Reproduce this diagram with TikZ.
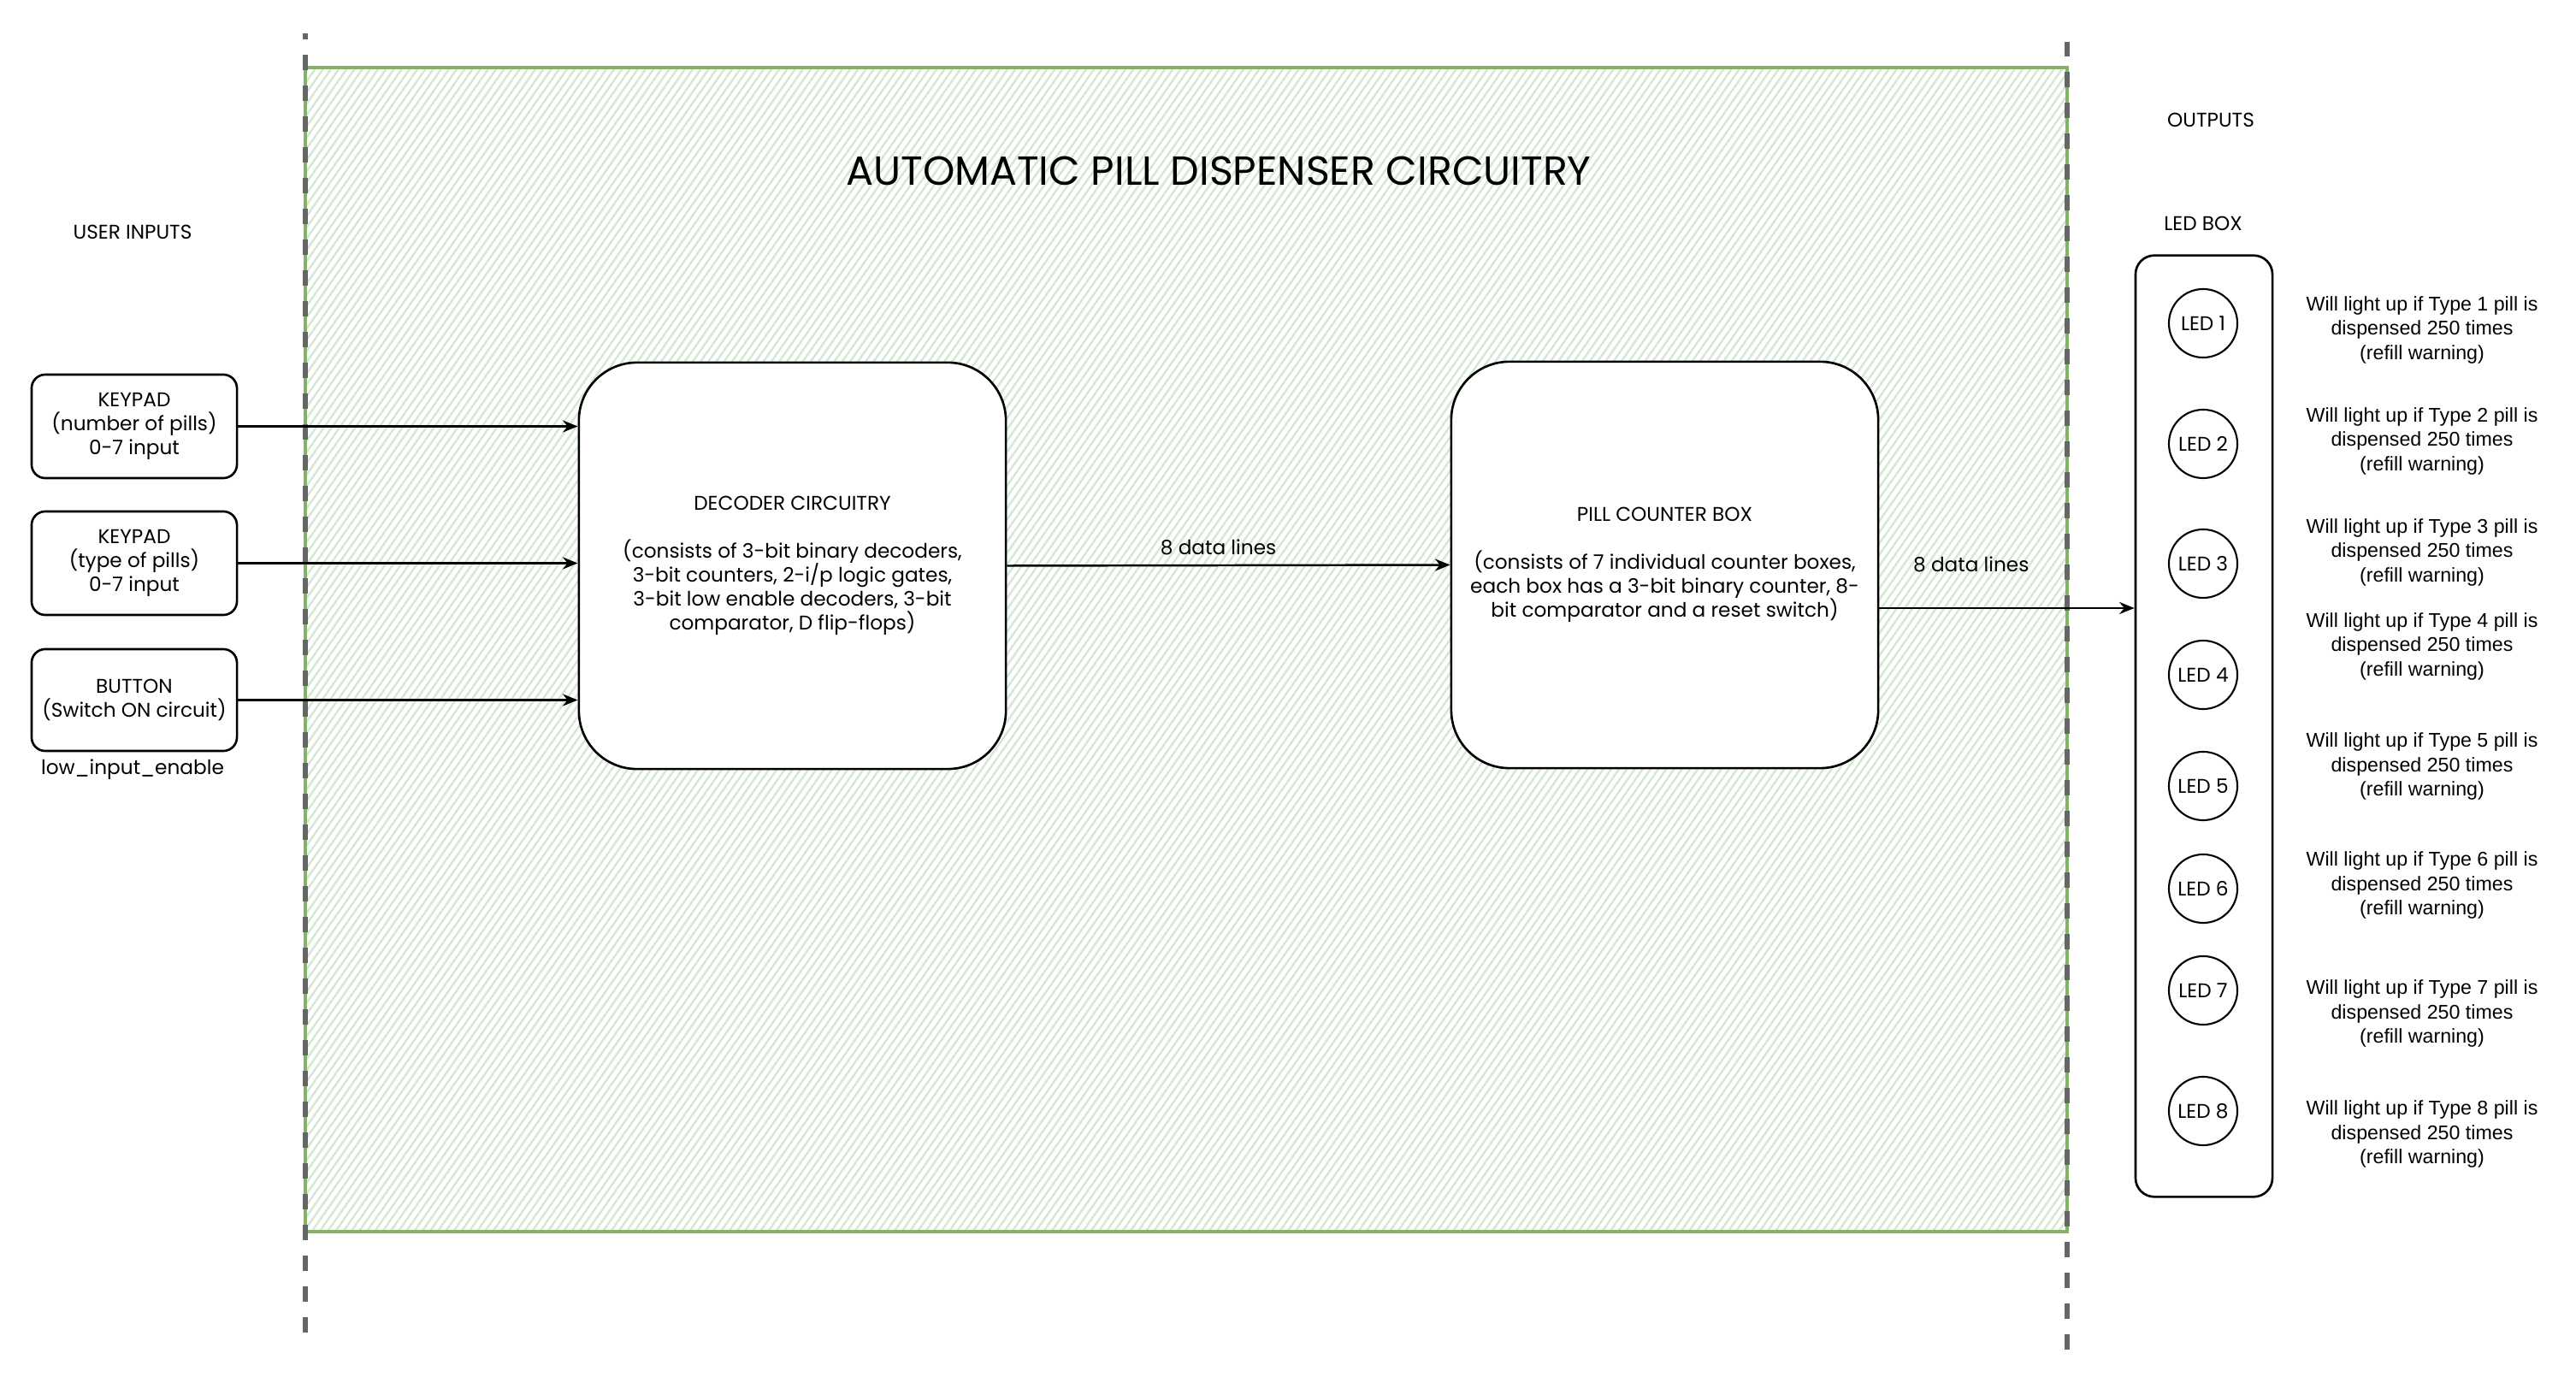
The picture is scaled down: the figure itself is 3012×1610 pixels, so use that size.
\documentclass[tikz,border=0pt]{standalone}
\usepackage{fontspec}
\setmainfont{Poppins}
\newfontfamily\descfont{Liberation Sans}
\usetikzlibrary{arrows.meta}
\definecolor{hatchgreen}{HTML}{D5E8D4}
\definecolor{bordergreen}{HTML}{82B366}
\definecolor{dashgray}{HTML}{666666}
\begin{document}
\begin{tikzpicture}[x=0.01cm,y=-0.01cm,
  txt/.style={font=\fontsize{6.6}{7.97}\selectfont, align=center, inner sep=0pt},
  titletxt/.style={font=\fontsize{13.5}{16}\selectfont, align=center, inner sep=0pt},
  inbox/.style={draw, line width=0.75pt, rounded corners=0.16cm, minimum width=2.40cm, minimum height=1.21cm, fill=white, txt},
  bigbox/.style={draw, line width=0.75pt, rounded corners=0.68cm, minimum width=4.99cm, minimum height=4.75cm, fill=white, txt},
  ledbox/.style={draw, line width=0.75pt, rounded corners=0.22cm, minimum width=1.60cm, minimum height=11.00cm, fill=white},
  led/.style={draw, circle, line width=0.6pt, minimum size=0.80cm, fill=white, txt},
  desc/.style={font=\descfont\fontsize{6.6}{7.97}\selectfont, align=center, inner sep=0pt},
  arr/.style={line width=0.7pt, -{Stealth[length=5pt, width=4pt]}},
  sepline/.style={dashgray, line width=1.7pt, dash pattern=on 5.12pt off 5.12pt},
  hatch/.style={hatchgreen, line width=0.7pt}
]
\useasboundingbox (0,0) rectangle (3012,1610);
\fill[white] (0,0) rectangle (3012,1610);

% hatched circuitry area
\begin{scope}
  \clip (357,79) rectangle (2417,1440);
  \foreach \k in {0,...,330} {
    \draw[hatch] ({-620+\k*9.2},1440) -- ++(953,-1361);
  }
\end{scope}
\draw[bordergreen, line width=0.9pt] (357,79) rectangle (2417,1440);

% dashed separators
\draw[sepline] (357,1558) -- (357,39);
\draw[sepline] (2417,1578) -- (2417,49);

% titles
\node[titletxt] (title) at (1425,200) {AUTOMATIC PILL DISPENSER CIRCUITRY};
\node[txt] (uin) at (155,271) {USER INPUTS};
\node[txt] (outs) at (2585,140) {OUTPUTS};
\node[txt] (ledlbl) at (2576,261) {LED BOX};

% inputs
\node[inbox] (kp1) at (157,498.5) {KEYPAD\\(number of pills)\\0-7 input};
\node[inbox] (kp2) at (157,658.5) {KEYPAD\\(type of pills)\\0-7 input};
\node[inbox, minimum height=1.19cm] (btn) at (157,818.5) {BUTTON\\(Switch ON circuit)};
\node[txt] (low) at (155,900) {low\_input\_enable};

% main blocks
\node[bigbox] (dec) at (926.5,661.5) {DECODER CIRCUITRY\\[7.97pt](consists of 3-bit binary decoders,\\3-bit counters, 2-i/p logic gates,\\3-bit low enable decoders, 3-bit\\comparator, D flip-flops)};
\node[bigbox] (pcb) at (1946.5,660.5) {PILL COUNTER BOX\\[7.97pt](consists of 7 individual counter boxes,\\each box has a 3-bit binary counter, 8-\\bit comparator and a reset switch)};

% LED box
\node[ledbox] (lbox) at (2577,849) {};
\foreach \n/\y in {1/378,2/519,3/659,4/789,5/919,6/1039,7/1158,8/1299} {
  \node[led] (led\n) at (2576,\y) {LED \n};
}
\foreach \n/\y in {1/386,2/516,3/646,4/756,5/896,6/1035,7/1185,8/1326} {
  \node[desc] (desc\n) at (2832,\y) {Will light up if Type \n\ pill is\\dispensed 250 times\\(refill warning)};
}

% connectors
\draw[arr] (kp1.east) -- (kp1.east -| dec.west);
\draw[arr] (kp2.east) -- (kp2.east -| dec.west);
\draw[arr] (btn.east) -- (btn.east -| dec.west);
\draw[arr] (dec.east) -- node[txt, pos=0.477, yshift=6pt] (dl1) {8 data lines} (pcb.west);
\coordinate (outy) at (2300,711);
\draw[arr] (pcb.east |- outy) -- node[txt, pos=0.36, yshift=14.5pt] (dl2) {8 data lines} (lbox.west |- outy);
\end{tikzpicture}
\end{document}
